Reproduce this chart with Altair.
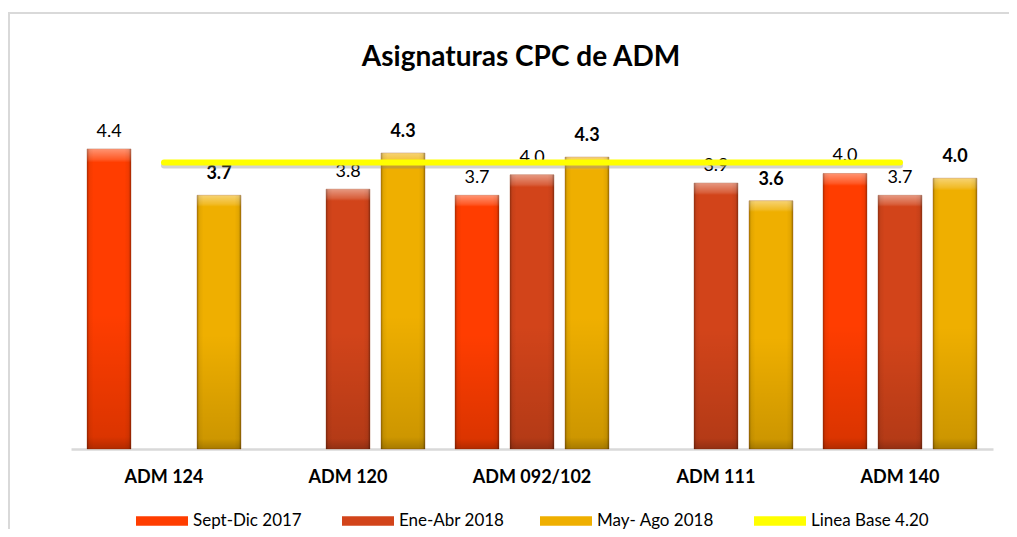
import altair as alt
import pandas as pd

categories = ["ADM 124", "ADM 120", "ADM 092/102", "ADM 111", "ADM 140"]
series = ["Sept-Dic  2017", "Ene-Abr 2018", "May- Ago  2018"]
sept_dic_2017 = [4.40, None, 3.72, None, 4.04]
ene_abr_2018 = [None, 3.81, 4.02, 3.90, 3.72]
may_ago_2018 = [3.72, 4.34, 4.28, 3.64, 3.97]
baseline_name = "Linea Base 4.20"
baseline_value = 4.20
colors = ["#FF3D00", "#D2441A", "#EFAF00", "#FFFF00"]

rows = []
for s, vals in zip(series, [sept_dic_2017, ene_abr_2018, may_ago_2018]):
    for c, v in zip(categories, vals):
        if v is not None:
            rows.append({"cat": c, "serie": s, "value": v})
df = pd.DataFrame(rows)
line_df = pd.DataFrame({"cat": categories, "serie": [baseline_name] * len(categories),
                        "value": [baseline_value] * len(categories)})
one = pd.DataFrame({"k": [0]})

FONT = "Lato"
W, H = 922, 341

x_enc = alt.X("cat:N", sort=categories, title=None,
              scale=alt.Scale(paddingInner=0.163, paddingOuter=0.087),
              axis=alt.Axis(labelAngle=0, labelFont=FONT, labelFontSize=18, labelFontWeight="bold",
                            labelColor="#000000", ticks=False, domainColor="#d9d9d9", domainWidth=2.5,
                            labelPadding=19))
xo_enc = alt.XOffset("serie:N", sort=series, scale=alt.Scale(domain=series, paddingInner=0.2, paddingOuter=0))
y_enc = alt.Y("value:Q", scale=alt.Scale(domain=[0, 5], nice=False), axis=None)

# outer chart-area frame (only its left and top edges fall inside the picture)
frame = alt.Chart(one).mark_rect(filled=False, stroke="#d9d9d9", strokeWidth=2).encode(
    x=alt.value(-62), x2=alt.value(W + 60), y=alt.value(-95), y2=alt.value(H + 150))

bars = alt.Chart(df).mark_bar(stroke="#8a3008", strokeWidth=0.6, strokeOpacity=0.5).encode(
    x=x_enc, xOffset=xo_enc, y=y_enc,
    color=alt.Color("serie:N", title=None,
                    scale=alt.Scale(domain=series + [baseline_name], range=colors),
                    legend=alt.Legend(orient="none", legendX=65, legendY=405, direction="horizontal",
                                      symbolType="M-1,-0.18H1V0.18H-1Z", symbolSize=2704,
                                      symbolStrokeWidth=0, symbolOpacity=1,
                                      labelFont=FONT, labelFontSize=17, labelColor="#000000",
                                      labelOffset=5, columnPadding=35, padding=0, clipHeight=16)))

vgrad = alt.LinearGradient(gradient="linear", x1=0, x2=0, y1=0, y2=1, stops=[
    alt.GradientStop(offset=0, color="rgba(255,255,255,0.45)"),
    alt.GradientStop(offset=0.035, color="rgba(255,255,255,0.15)"),
    alt.GradientStop(offset=0.045, color="rgba(255,255,255,0)"),
    alt.GradientStop(offset=0.55, color="rgba(0,0,0,0)"),
    alt.GradientStop(offset=0.96, color="rgba(0,0,0,0.14)"),
    alt.GradientStop(offset=1, color="rgba(0,0,0,0.3)"),
])
hgrad = alt.LinearGradient(gradient="linear", x1=0, x2=1, y1=0, y2=0, stops=[
    alt.GradientStop(offset=0, color="rgba(0,0,0,0.25)"),
    alt.GradientStop(offset=0.06, color="rgba(0,0,0,0.05)"),
    alt.GradientStop(offset=0.15, color="rgba(0,0,0,0)"),
    alt.GradientStop(offset=0.85, color="rgba(0,0,0,0)"),
    alt.GradientStop(offset=0.94, color="rgba(0,0,0,0.05)"),
    alt.GradientStop(offset=1, color="rgba(0,0,0,0.3)"),
])
over_v = alt.Chart(df).mark_bar(fill=vgrad).encode(x=x_enc, xOffset=xo_enc, y=y_enc)
over_h = alt.Chart(df).mark_bar(fill=hgrad).encode(x=x_enc, xOffset=xo_enc, y=y_enc)

txt_norm = alt.Chart(df).transform_filter(alt.datum.serie != series[2]).mark_text(
    font=FONT, fontSize=18, color="#000000", dy=-8, baseline="bottom").encode(
    x=x_enc, xOffset=xo_enc, y=y_enc, text=alt.Text("value:Q", format=".1f"))
txt_bold = alt.Chart(df).transform_filter(alt.datum.serie == series[2]).mark_text(
    font=FONT, fontSize=18, fontWeight="bold", color="#000000", dy=-12, baseline="bottom").encode(
    x=x_enc, xOffset=xo_enc, y=y_enc, text=alt.Text("value:Q", format=".1f"))

line_shadow = alt.Chart(line_df).mark_line(color="#808080", opacity=0.35, strokeWidth=6,
                                           strokeCap="round", yOffset=3).encode(x=x_enc, y=y_enc)
line = alt.Chart(line_df).mark_line(color="#FFFF00", strokeWidth=6, strokeCap="round").encode(
    x=x_enc, y=y_enc)

chart = alt.layer(frame, bars, over_v, over_h, txt_norm, txt_bold, line_shadow, line).properties(
    width=W, height=H,
    autosize=alt.AutoSizeParams(type="none"),
    padding={"left": 63, "top": 100, "right": 16, "bottom": 80},
    title=alt.TitleParams("Asignaturas CPC de ADM", font=FONT, fontSize=28, fontWeight="bold",
                          color="#000000", anchor="middle", frame="group", offset=0, dy=60, dx=-11),
).configure_view(stroke=None)

chart.save("out.html", embed_options={"renderer": "svg", "actions": False})
